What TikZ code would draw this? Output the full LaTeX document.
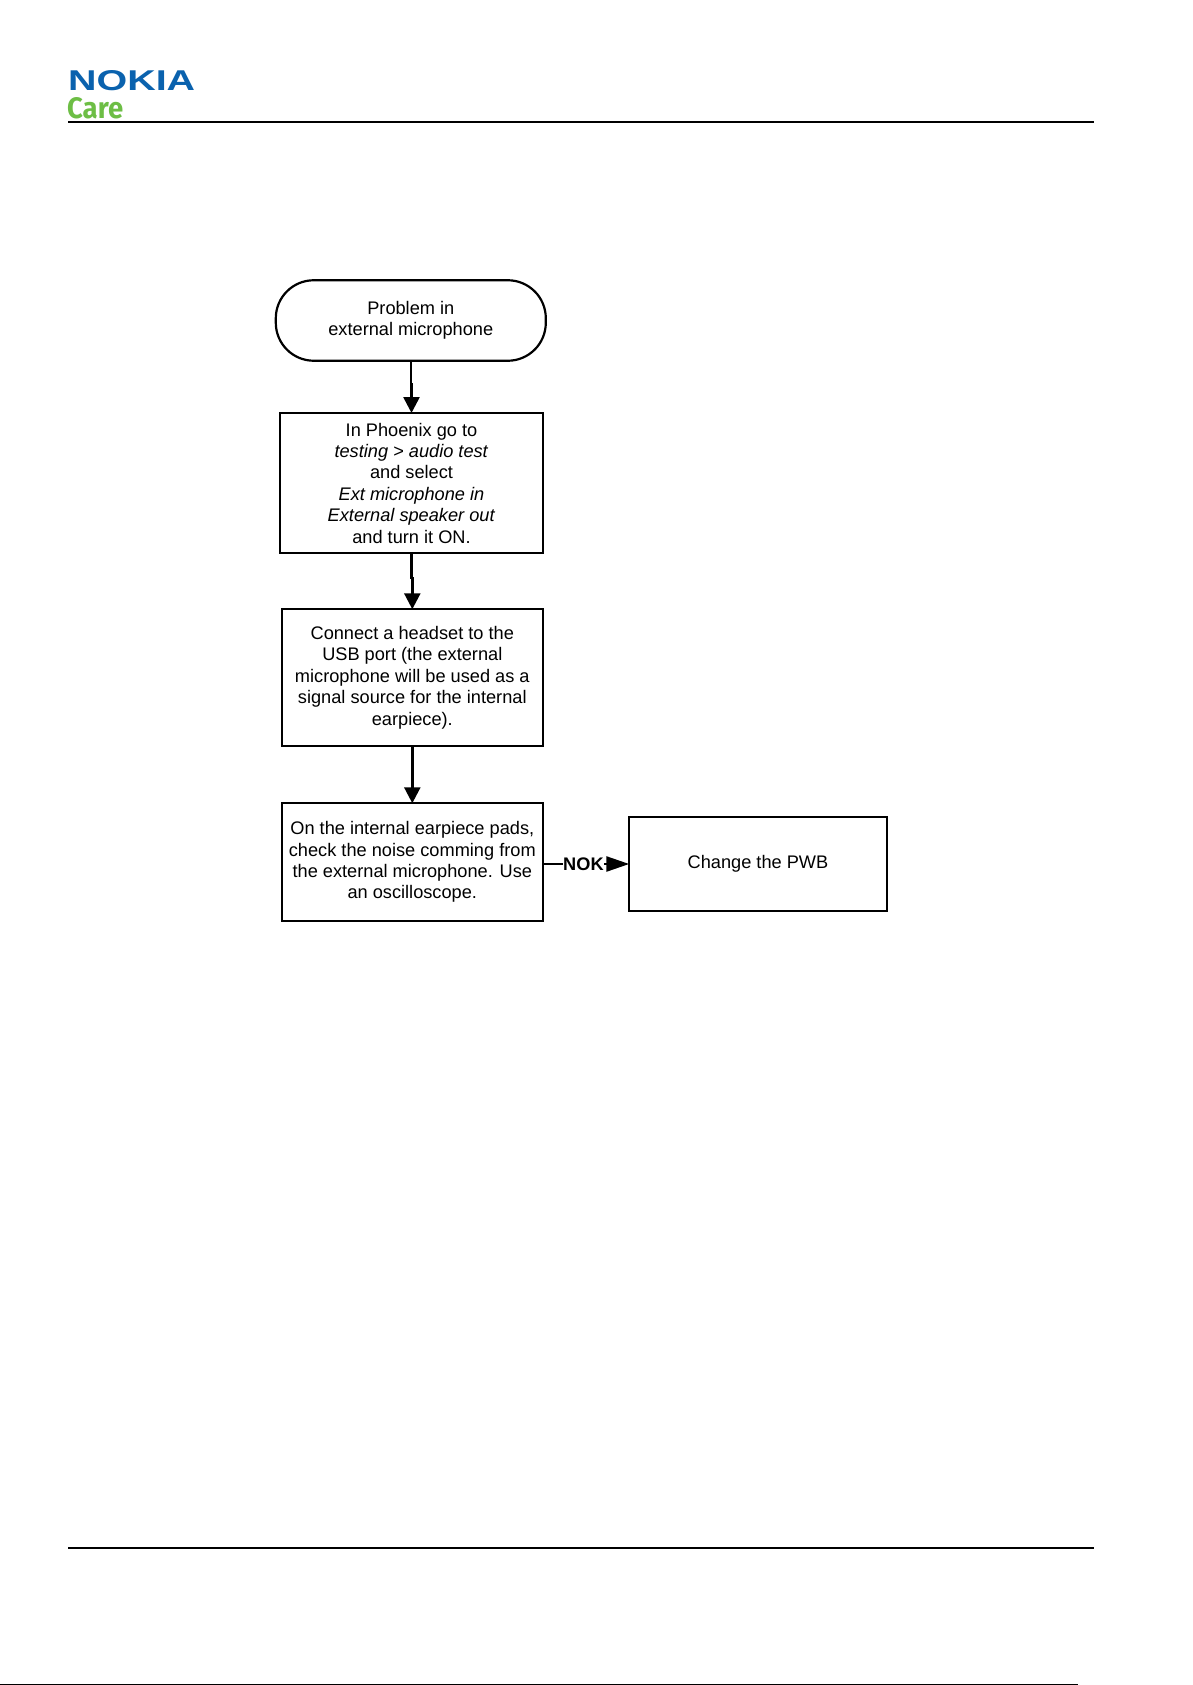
\documentclass[tikz,border=0pt]{standalone}
\usepackage{fontspec}
\setmainfont{Liberation Sans}
\usetikzlibrary{arrows.meta}
\definecolor{nokiablue}{HTML}{0A62AE}
\definecolor{caregreen}{HTML}{6DBE45}
\tikzset{
  flowbox/.style={draw=black,fill=white,line width=2.2pt,inner sep=0pt,outer sep=0pt,align=center,font=\fontsize{18.2}{21.4}\selectfont},
  flowterm/.style={flowbox,rounded corners=38pt},
  flowline/.style={line width=2.6pt,draw=black},
  flowarrow/.style={flowline,-{Triangle[length=16pt,width=16pt]}},
  nokarrow/.style={flowline,-{Triangle[length=23pt,width=15pt]}},
  nolabel/.style={fill=white,inner sep=0pt,font=\fontsize{18.2}{21}\selectfont\bfseries},
  pagerule/.style={line width=2pt,draw=black}
}
\begin{document}
\begin{tikzpicture}[x=1pt,y=-1pt]
\useasboundingbox (0,0) rectangle (1192,1685);
\fill[white] (0,0) rectangle (1192,1685);
% header
\node[anchor=south west,inner sep=0pt,text=nokiablue,font=\bfseries] (logo) at (68,91) {\resizebox{127pt}{20pt}{NOKIA}};
\node[anchor=south west,inner sep=0pt,text=caregreen] (care) at (67,119) {\resizebox{56pt}{21pt}{\fontspec{Fira Sans}\bfseries Care}};
\coordinate (hl) at (68,122.5); \coordinate (hr) at (1094,122.5);
\draw[pagerule] (hl) -- (hr);
\coordinate (fl) at (68,1548); \coordinate (fr) at (1094,1548);
\draw[pagerule] (fl) -- (fr);
\coordinate (el) at (0,1684.5); \coordinate (er) at (1078,1684.5);
\draw[line width=2pt,draw=black] (el) -- (er);
% flow
\node[flowterm,minimum width=270pt,minimum height=80.5pt] (t) at (410.8,320.5) {Problem in\\external microphone};
\node[flowbox,minimum width=263pt,minimum height=140pt] (a) at (411.5,483) {In Phoenix go to\\\textit{testing > audio test}\\and select\\\textit{Ext microphone in}\\\textit{External speaker out}\\and turn it ON.};
\node[flowbox,minimum width=261pt,minimum height=136.5pt] (b) at (412.3,677.5) {Connect a headset to the\\USB port (the external\\microphone will be used as a\\signal source for the internal\\earpiece).};
\node[flowbox,minimum width=261pt,minimum height=117.5pt] (c) at (412.3,862) {On the internal earpiece pads,\\check the noise comming from\\the external microphone. Use\\an oscilloscope.};
\node[flowbox,minimum width=257.5pt,minimum height=93.5pt] (d) at (758,864) {Change the PWB};
% connectors
\draw[flowarrow] (t.south) -- ++(0,24) -| (a.north);
\draw[flowarrow] (a.south) -- ++(0,25) -| (b.north);
\draw[flowarrow] (b.south) -- (c.north);
\draw[nokarrow] (c.east |- d.west) -- node[nolabel,pos=0.47] (nok) {NOK} (d.west);
\end{tikzpicture}
\end{document}
